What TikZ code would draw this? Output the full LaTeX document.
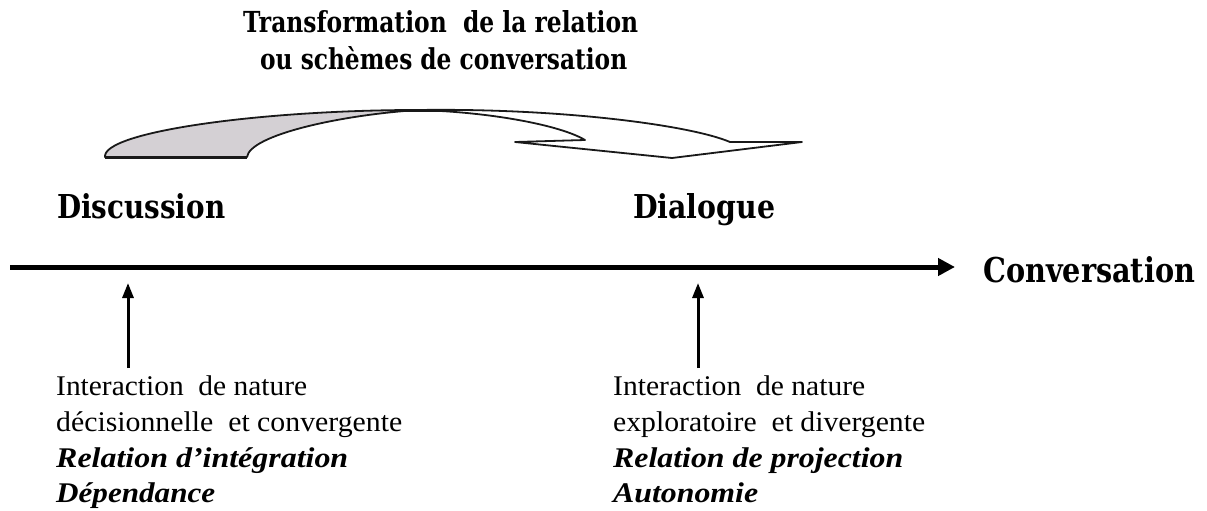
\documentclass[tikz,border=0pt]{standalone}
\usepackage{fontspec}
\setmainfont{Liberation Serif}
\newfontfamily\headfont{DejaVu Serif}
\usetikzlibrary{arrows.meta}
\definecolor{ribbon}{RGB}{212,208,212}
\definecolor{ink}{RGB}{25,25,25}
\newcommand{\fitline}[2]{\resizebox{#1pt}{\height}{#2}}
\newcommand{\fitbox}[3]{\raisebox{0pt}[\height][0pt]{\resizebox{#1pt}{#2pt}{#3}}}
\begin{document}
\begin{tikzpicture}[x=1pt,y=-1pt,
  body/.style={anchor=base west, inner sep=0pt, font=\fontsize{28.5}{34}\selectfont},
  bodyit/.style={anchor=base west, inner sep=0pt, font=\fontsize{28.5}{34}\selectfont\bfseries\itshape},
  head/.style={anchor=base west, inner sep=0pt, font=\fontsize{32}{38}\selectfont\headfont\bfseries},
  outline/.style={draw=ink, line width=1.8pt, line join=round},
  axis/.style={line width=5pt, -{Triangle[length=17pt,width=17pt]}},
  pointer/.style={line width=3pt, -{Triangle[length=15pt,width=11pt]}}]
\fill[white] (0,0) rectangle (1207,511);
\useasboundingbox (0,0) rectangle (1207,511);

% curved transformation arrow
\draw[outline, fill=white] (418,110) .. controls (560,108) and (690,125) .. (730,142)
  -- (802,142) -- (672,158) -- (515,142) -- (585,140)
  .. controls (560,125) and (490,112) .. (418,110) -- cycle;
\draw[outline, fill=ribbon] (105,157) .. controls (102,132) and (260,110) .. (418,110)
  .. controls (340,115) and (250,135) .. (247,157) -- cycle;
\draw[ink, line width=3pt] (105,157) -- (247,157);
\draw[ink, line width=3pt, line cap=round] (395,110.3) -- (440,110.3);

% titles
\node[head] (t1) at (243,33) {\fitbox{395}{22}{Transformation~ de la relation}};
\node[head] (t2) at (260,70) {\fitbox{367}{23}{ou schèmes de conversation}};
\node[head] (disc) at (57,218) {\fitbox{168}{25}{Discussion}};
\node[head] (dial) at (633,218) {\fitbox{142}{25}{Dialogue}};
\node[head] (conv) at (983,282) {\fitbox{212}{26}{Conversation}};

% axis
\coordinate (axisL) at (10,267);
\coordinate (axisR) at (955,267);
\draw[axis] (axisL) -- (axisR);

% pointers
\coordinate (pA0) at (128,368);
\coordinate (pA1) at (128,283);
\coordinate (pB0) at (698,368);
\coordinate (pB1) at (698,283);
\draw[pointer] (pA0) -- (pA1);
\draw[pointer] (pB0) -- (pB1);

% left block
\node[body] (l1) at (56,395) {\fitline{251}{Interaction~ de nature}};
\node[body] (l2) at (56,431) {\fitline{346}{décisionnelle~ et convergente}};
\node[bodyit] (l3) at (56,467) {\fitline{292}{Relation d’intégration}};
\node[bodyit] (l4) at (56,502) {\fitline{159}{Dépendance}};

% right block
\node[body] (r1) at (613,395) {\fitline{252}{Interaction~ de nature}};
\node[body] (r2) at (613,431) {\fitline{312}{exploratoire~ et divergente}};
\node[bodyit] (r3) at (613,467) {\fitline{290}{Relation de projection}};
\node[bodyit] (r4) at (613,502) {\fitline{145}{Autonomie}};
\end{tikzpicture}
\end{document}
